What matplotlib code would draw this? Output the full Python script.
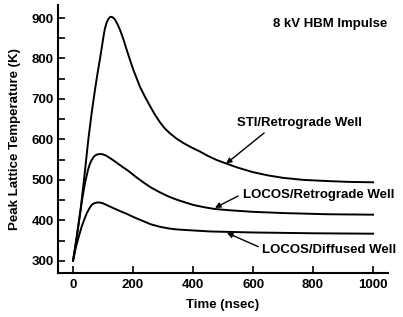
import matplotlib
matplotlib.use('Agg')
import matplotlib.pyplot as plt
from matplotlib.ticker import MultipleLocator

plt.rcParams['font.family'] = ['Liberation Sans', 'DejaVu Sans']
plt.rcParams['font.weight'] = 'bold'

# Peak lattice temperature (K) vs time (nsec)
t_sti = [0, 12, 25, 38, 51, 62, 73, 82, 90, 96, 101, 106, 112, 118, 124, 132,
         140, 148, 157, 168, 179, 190, 201, 212, 223, 240, 257, 273, 290, 306,
         323, 345, 368, 395, 423, 450, 479, 512, 550, 600, 650, 700, 767, 850,
         920, 1000]
T_sti = [300, 355, 425, 510, 600, 665, 722, 765, 800, 828, 852, 873, 889, 898, 903, 902,
         896, 885, 870, 847, 821, 796, 772, 751, 730, 705, 682, 661, 642, 627,
         615, 602, 591, 580, 570, 559, 549, 540, 530, 519, 511, 505, 500, 497,
         495, 494]

t_locos_retro = [0, 10, 20, 30, 40, 50, 56, 62, 68, 75, 82, 90, 100, 110, 123,
                 135, 150, 165, 179, 195, 210, 234, 260, 290, 318, 346, 375, 401,
                 440, 473, 520, 600, 700, 850, 1000]
T_locos_retro = [300, 348, 400, 450, 493, 525, 539, 549, 556, 561, 563, 564, 563, 560, 554,
                 548, 540, 532, 525, 516, 507, 494, 481, 469, 459, 451, 444, 438,
                 432, 428, 425, 421, 418, 415, 414]

t_locos_diff = [0, 10, 20, 29, 38, 46, 54, 62, 70, 79, 90, 100, 123, 150, 179,
                205, 234, 260, 290, 318, 346, 400, 457, 513, 600, 700, 800, 1000]
T_locos_diff = [300, 335, 362, 385, 403, 418, 429, 438, 442, 444, 444, 442, 434, 425, 416,
                407, 398, 390, 384, 380, 377.5, 375, 372.5, 371.5, 370, 369, 368, 367]

FS = 9.5

fig = plt.figure(figsize=(4.03, 3.17), dpi=100)
ax = fig.add_axes([0.144, 0.139, 0.819, 0.845])

for t, T in [(t_sti, T_sti), (t_locos_retro, T_locos_retro), (t_locos_diff, T_locos_diff)]:
    ax.plot(t, T, color='black', lw=1.4, solid_joinstyle='round')

ax.set_xlim(-50, 1050)
ax.set_ylim(270, 932)
ax.xaxis.set_major_locator(MultipleLocator(200))
ax.yaxis.set_major_locator(MultipleLocator(100))
ax.yaxis.set_minor_locator(MultipleLocator(50))
ax.tick_params(axis='both', which='both', direction='in', width=1.2, labelsize=FS)
ax.tick_params(axis='y', which='both', length=5, pad=3)
ax.tick_params(axis='x', which='major', length=5, pad=4.5)
for lab in ax.get_xticklabels() + ax.get_yticklabels():
    lab.set_fontweight('bold')

ax.spines['top'].set_visible(False)
ax.spines['right'].set_visible(False)
ax.spines['left'].set_linewidth(1.5)
ax.spines['bottom'].set_linewidth(1.5)

ax.set_xlabel('Time (nsec)', fontsize=FS, fontweight='bold', labelpad=5.5)
ax.set_ylabel('Peak Lattice Temperature (K)', fontsize=FS, fontweight='bold', labelpad=8)

ax.text(667, 885, '8 kV HBM Impulse', fontsize=FS, fontweight='bold', ha='left', va='center')

arrow = dict(arrowstyle='-|>', color='black', lw=1.0, mutation_scale=8, shrinkA=0, shrinkB=0)
ax.text(547, 641, 'STI/Retrograde Well', fontsize=FS, fontweight='bold', ha='left', va='center')
ax.annotate('', xy=(510, 540), xytext=(637, 616), arrowprops=arrow)

ax.text(567, 463, 'LOCOS/Retrograde Well', fontsize=FS, fontweight='bold', ha='left', va='center')
ax.annotate('', xy=(473, 431), xytext=(550, 460), arrowprops=arrow)

ax.text(630, 327, 'LOCOS/Diffused Well', fontsize=FS, fontweight='bold', ha='left', va='center')
ax.annotate('', xy=(513, 369), xytext=(617, 335), arrowprops=arrow)

fig.savefig('out.png', dpi=100, facecolor='white')
